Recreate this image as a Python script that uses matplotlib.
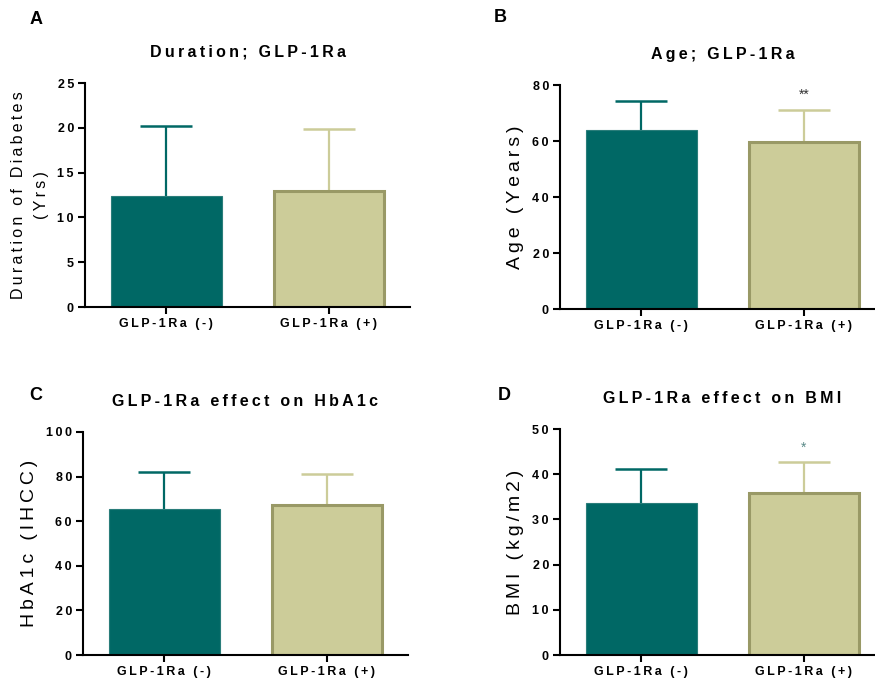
import matplotlib
matplotlib.use('Agg')
import matplotlib.pyplot as plt

plt.rcParams['font.family'] = ['Liberation Sans', 'DejaVu Sans']

groups = ['GLP-1Ra (-)', 'GLP-1Ra (+)']

duration_mean = [12.4, 12.9]
duration_sd = [7.8, 7.0]

age_mean = [63.8, 59.7]
age_sd = [10.5, 11.4]

hba1c_mean = [65.5, 67.2]
hba1c_sd = [16.5, 14.0]

bmi_mean = [33.7, 35.8]
bmi_sd = [7.5, 6.9]

TEAL = '#006865'
KHAKI = '#cccc99'
OLIVE = '#999966'


def spaced(s):
    # PRISM-style wide letter spacing
    return '\u2009'.join(s)


def panel(fig, rect, means, sds, yticks, title, ylabel, letter, letter_xy, ylab_size=14):
    ax = fig.add_axes(rect)
    x = [0, 1]
    ax.bar(x[0], means[0], width=0.68, color=TEAL, edgecolor='#2a7d7a', linewidth=0.8, zorder=2)
    ax.bar(x[1], means[1], width=0.68, color=KHAKI, edgecolor=OLIVE, linewidth=2.2, zorder=2)
    for xi, m, s, c in zip(x, means, sds, [TEAL, KHAKI]):
        eb = ax.errorbar(xi, m, yerr=[[0], [s]], fmt='none', ecolor=c, elinewidth=1.6,
                         capsize=19, capthick=1.8, zorder=1)
        # upper error only: hide the cap at the bar top
        eb[1][0].set_visible(False)
    ax.set_xlim(-0.5, 1.5)
    ax.set_ylim(0, yticks[-1])
    ax.set_yticks(yticks)
    ax.set_yticklabels([spaced(str(t)) for t in yticks], fontsize=9, fontweight='bold')
    ax.set_xticks(x)
    ax.set_xticklabels([spaced(g) for g in groups], fontsize=9, fontweight='bold')
    for sp in ['top', 'right']:
        ax.spines[sp].set_visible(False)
    for sp in ['left', 'bottom']:
        ax.spines[sp].set_linewidth(1.5)
    ax.tick_params(axis='both', width=1.5, length=5, pad=3)
    ax.set_title(spaced(title), fontsize=11.5, fontweight='bold', pad=19)
    ax.set_ylabel(ylabel, fontsize=ylab_size, labelpad=6, linespacing=1.7)
    fig.text(letter_xy[0], letter_xy[1], letter, fontsize=13, fontweight='bold',
             ha='left', va='center')
    return ax


fig = plt.figure(figsize=(8.75, 6.86), dpi=100)
W, H = 875.0, 686.0


def rect(l, r, t, b):
    return [l / W, 1 - b / H, (r - l) / W, (b - t) / H]


axA = panel(fig, rect(85, 410, 83, 307), duration_mean, duration_sd, [0, 5, 10, 15, 20, 25],
            'Duration; GLP-1Ra', spaced('Duration of Diabetes') + '\n' + spaced('(Yrs)'),
            'A', (30 / W, 1 - 19 / H), ylab_size=11.5)
axB = panel(fig, rect(560, 885, 85, 309), age_mean, age_sd, [0, 20, 40, 60, 80],
            'Age; GLP-1Ra', spaced('Age (Years)'), 'B', (494 / W, 1 - 18 / H))
axC = panel(fig, rect(83, 408, 432, 655), hba1c_mean, hba1c_sd, [0, 20, 40, 60, 80, 100],
            'GLP-1Ra effect on HbA1c', spaced('HbA1c (IHCC)'), 'C', (29 / W, 1 - 395 / H))
axD = panel(fig, rect(560, 885, 429, 655), bmi_mean, bmi_sd, [0, 10, 20, 30, 40, 50],
            'GLP-1Ra effect on BMI', spaced('BMI (kg/m2)'), 'D', (498 / W, 1 - 395 / H))

axB.text(1, 76.5, '**', ha='center', va='center', fontsize=10, color='#333333')
axD.text(1, 45.8, '*', ha='center', va='center', fontsize=10, color='#5a8a88')

fig.savefig('out.png', dpi=100)
